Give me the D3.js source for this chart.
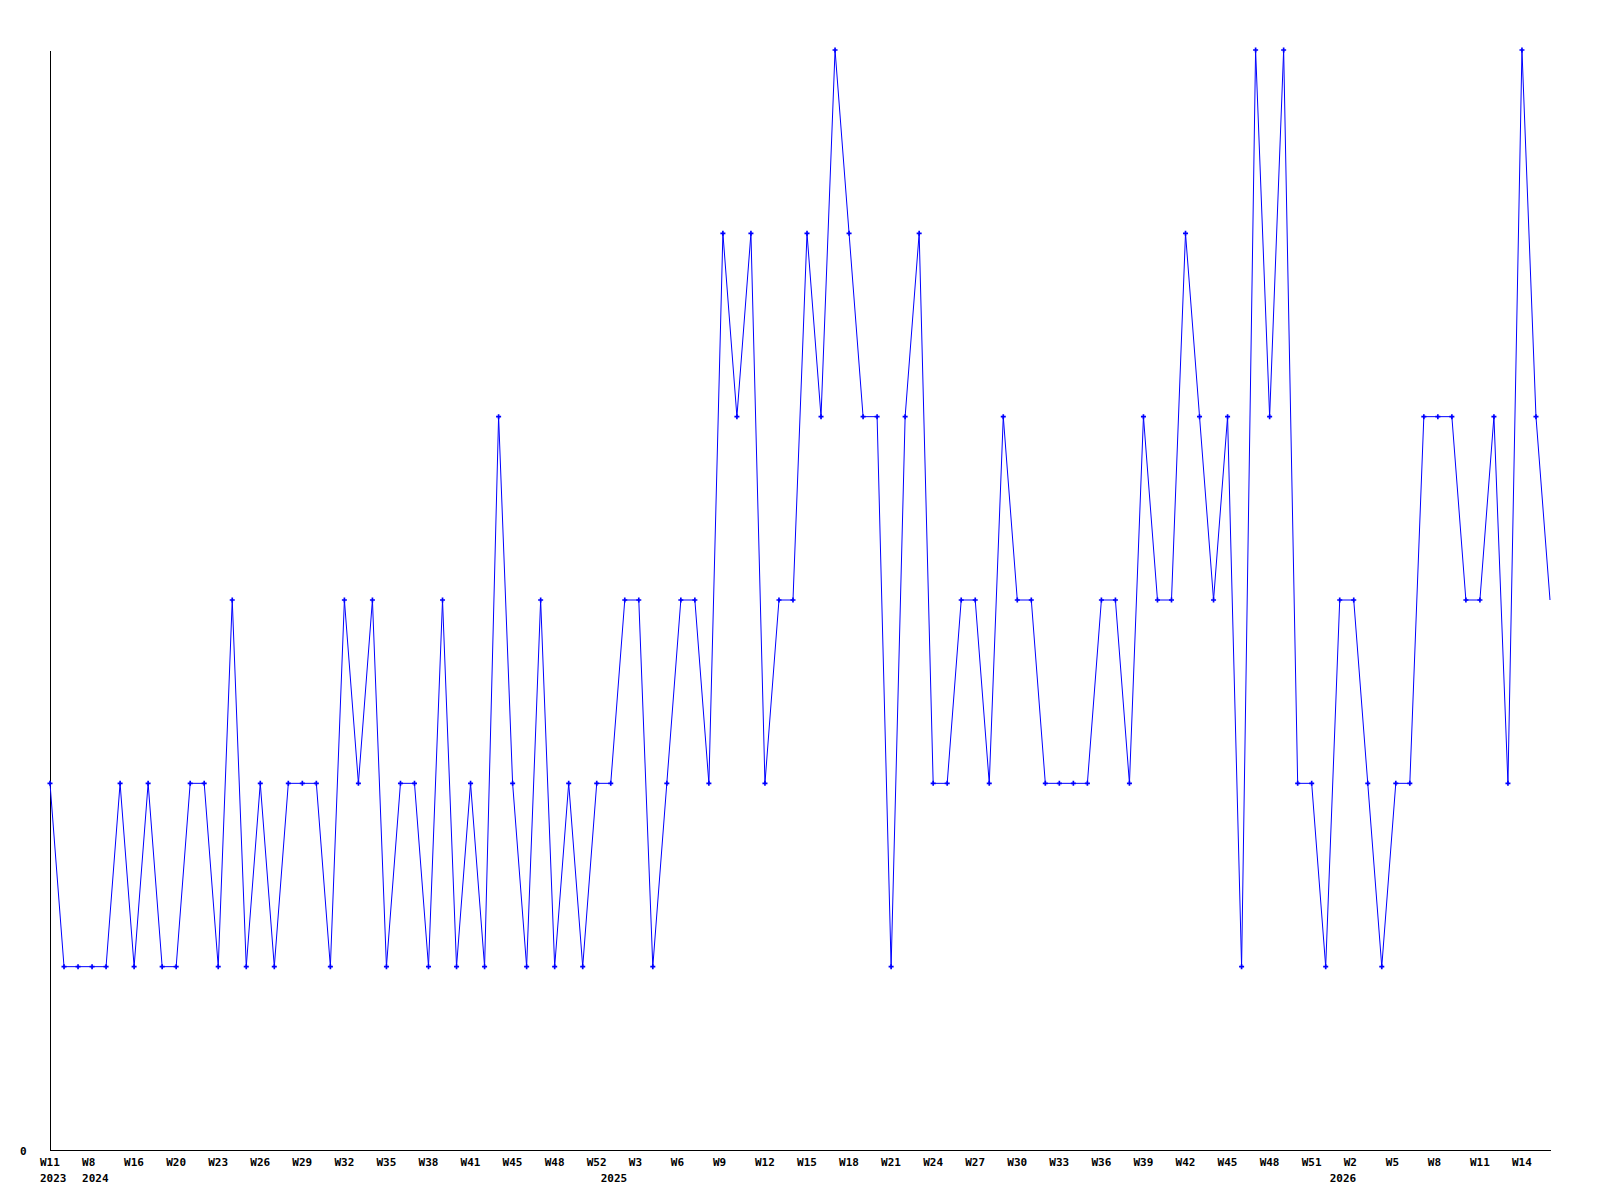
<!DOCTYPE html>
<html>
<head>
<meta charset="utf-8">
<script src="https://cdn.jsdelivr.net/npm/d3@7"></script>
<style>
  body { margin: 0; background: #fff; }
  .axis text { font-family: "DejaVu Sans Mono", monospace; font-size: 11px; font-weight: bold; fill: #000; }
  .axis path { stroke: #000; shape-rendering: crispEdges; }
</style>
</head>
<body>
<div id="chart"></div>
<script>
// weekly values, one per point (gaps in the weeks are skipped)
var values = [
  2, 1, 1, 1, 1, 2, 1, 2, 1, 1, 2, 2, 1, 3, 1, 2, 1, 2, 2, 2,
  1, 3, 2, 3, 1, 2, 2, 1, 3, 1, 2, 1, 4, 2, 1, 3, 1, 2, 1, 2,
  2, 3, 3, 1, 2, 3, 3, 2, 5, 4, 5, 2, 3, 3, 5, 4, 6, 5, 4, 4,
  1, 4, 5, 2, 2, 3, 3, 2, 4, 3, 3, 2, 2, 2, 2, 3, 3, 2, 4, 3,
  3, 5, 4, 3, 4, 1, 6, 4, 6, 2, 2, 1, 3, 3, 2, 1, 2, 2, 4, 4,
  4, 3, 3, 4, 2, 6, 4, 3
];

// week tick labels, every third point
var weekLabels = ["W11", "W8", "W16", "W20", "W23", "W26", "W29", "W32", "W35", "W38",
  "W41", "W45", "W48", "W52", "W3", "W6", "W9", "W12", "W15", "W18",
  "W21", "W24", "W27", "W30", "W33", "W36", "W39", "W42", "W45", "W48",
  "W51", "W2", "W5", "W8", "W11", "W14"];
var weekIdx = weekLabels.map((d, i) => i * 3);

// year labels at the first point of each year
var yearLabels = ["2023", "2024", "2025", "2026"];
var yearIdx = [0, 3, 40, 92];

var svgWidth = 1600;
var svgHeight = 1200;
var margin = { top: 50, bottom: 50, left: 50, right: 50 };
var width = svgWidth - margin.left - margin.right;
var height = svgHeight - margin.top - margin.bottom;

var svg = d3.select("#chart")
  .append("svg")
  .attr("width", svgWidth)
  .attr("height", svgHeight);

var chartGroup = svg.append("g")
  .attr("transform", `translate(${margin.left}, ${margin.top})`);

var xScale = d3.scaleLinear()
  .domain([0, values.length - 1])
  .range([0, width]);

var yScale = d3.scaleLinear()
  .domain([0, 6])
  .range([height, 0]);

// x axis with week labels
var weekAxis = chartGroup.append("g")
  .attr("class", "axis")
  .attr("transform", `translate(0, ${height})`)
  .call(d3.axisBottom(xScale)
    .tickValues(weekIdx)
    .tickFormat((d, i) => weekLabels[i])
    .tickSize(0)
    .tickSizeOuter(0));
weekAxis.selectAll("text")
  .attr("text-anchor", "start")
  .attr("x", -10.5)
  .attr("y", 16)
  .attr("dy", 0);

// year row
var yearAxis = chartGroup.append("g")
  .attr("class", "axis")
  .attr("transform", `translate(0, ${height})`)
  .call(d3.axisBottom(xScale)
    .tickValues(yearIdx)
    .tickFormat((d, i) => yearLabels[i])
    .tickSize(0)
    .tickSizeOuter(0));
yearAxis.select(".domain").remove();
yearAxis.selectAll("text")
  .attr("text-anchor", "start")
  .attr("x", -10.5)
  .attr("y", 31.5)
  .attr("dy", 0);

// y axis, only the zero label
var yAxis = chartGroup.append("g")
  .attr("class", "axis")
  .call(d3.axisLeft(yScale)
    .tickValues([0])
    .tickFormat(d3.format("d"))
    .tickSize(0)
    .tickSizeOuter(0));
yAxis.selectAll("text")
  .attr("text-anchor", "start")
  .attr("x", -30)
  .attr("y", 4)
  .attr("dy", 0);

// line
var line = d3.line()
  .x((d, i) => xScale(i))
  .y(d => yScale(d));

chartGroup.append("path")
  .datum(values)
  .attr("d", line)
  .attr("fill", "none")
  .attr("stroke", "#0000ff")
  .attr("stroke-width", 1);

// markers (the last point has none)
chartGroup.selectAll(".marker")
  .data(values.slice(0, -1))
  .enter()
  .append("path")
  .attr("class", "marker")
  .attr("transform", (d, i) => `translate(${xScale(i)}, ${yScale(d)})`)
  .attr("d", d3.symbol().type(d3.symbolCross).size(14))
  .attr("fill", "#0000ff");
</script>
</body>
</html>
